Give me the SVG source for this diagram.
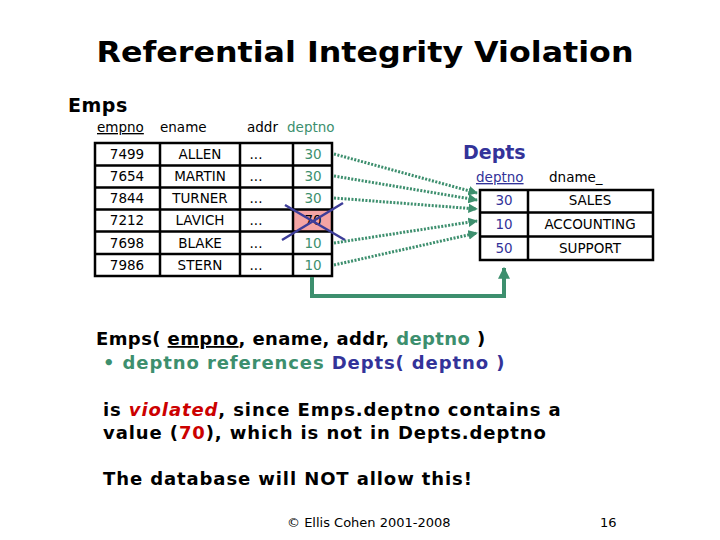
<svg xmlns="http://www.w3.org/2000/svg" width="720" height="540" viewBox="0 0 720 540">
<defs>
<style>
text{font-family:"DejaVu Sans","Verdana",sans-serif;fill:#000}
.b{font-weight:bold}
.g{fill:#3D8F6E}
.bl{fill:#333399}
.r{fill:#CC0000}
.cell{font-size:13.5px}
.tbl{fill:none;stroke:#000;stroke-width:2.5}
.dot{fill:none;stroke:#3D8F6E;stroke-width:3;stroke-dasharray:2 1.5;marker-end:url(#ah)}
</style>
<marker id="ah" viewBox="0 0 10 10" refX="9" refY="5" markerWidth="3.2" markerHeight="3.2" orient="auto" markerUnits="strokeWidth">
<path d="M0,0 L10,5 L0,10 z" fill="#3D8F6E"/>
</marker>
<marker id="ah2" viewBox="0 0 10 10" refX="9" refY="5" markerWidth="3" markerHeight="3" orient="auto" markerUnits="strokeWidth">
<path d="M0,0 L10,5 L0,10 z" fill="#3D8F6E"/>
</marker>
</defs>
<rect width="720" height="540" fill="#fff"/>
<text x="365" y="62" text-anchor="middle" class="b" font-size="29" textLength="537" lengthAdjust="spacingAndGlyphs">Referential Integrity Violation</text>

<g id="emps">
<text x="68" y="112" class="b" font-size="19" letter-spacing="0.5">Emps</text>
<text x="97" y="132" font-size="13.5" text-decoration="underline">empno</text>
<text x="160" y="132" font-size="13.5">ename</text>
<text x="247" y="132" font-size="13.5">addr</text>
<text x="287" y="132" font-size="13.5" class="g">deptno</text>
<rect x="293" y="209" width="39" height="22" fill="#F4A4A4"/>
<rect class="tbl" x="95" y="143" width="237" height="133"/>
<path class="tbl" d="M95,165.5H332M95,187.5H332M95,209.5H332M95,231.5H332M95,254H332M160,143V276M240,143V276M293,143V276"/>
<g class="cell" text-anchor="middle">
<text x="127" y="159">7499</text><text x="200" y="159">ALLEN</text><text x="256" y="159">...</text><text x="313" y="159" class="g">30</text>
<text x="127" y="181">7654</text><text x="200" y="181">MARTIN</text><text x="256" y="181">...</text><text x="313" y="181" class="g">30</text>
<text x="127" y="203">7844</text><text x="200" y="203">TURNER</text><text x="256" y="203">...</text><text x="313" y="203" class="g">30</text>
<text x="127" y="225">7212</text><text x="200" y="225">LAVICH</text><text x="256" y="225">...</text><text x="313" y="225">70</text>
<text x="127" y="248">7698</text><text x="200" y="248">BLAKE</text><text x="256" y="248">...</text><text x="313" y="248" class="g">10</text>
<text x="127" y="270">7986</text><text x="200" y="270">STERN</text><text x="256" y="270">...</text><text x="313" y="270" class="g">10</text>
</g>
<path d="M285,205L345,240M282,240L343,203" stroke="#3D3D99" stroke-width="2.5" fill="none"/>
</g>

<g id="depts">
<text x="463" y="159" class="b bl" font-size="19">Depts</text>
<text x="476" y="182" font-size="13.5" class="bl" text-decoration="underline">deptno</text>
<text x="549" y="182" font-size="13.5">dname_</text>
<rect class="tbl" x="480" y="190" width="173" height="70"/>
<path class="tbl" d="M480,212.5H653M480,236.5H653M528,190V260"/>
<g class="cell" text-anchor="middle">
<text x="504" y="205" class="bl">30</text><text x="590" y="205">SALES</text>
<text x="504" y="229" class="bl">10</text><text x="590" y="229">ACCOUNTING</text>
<text x="504" y="253" class="bl">50</text><text x="590" y="253">SUPPORT</text>
</g>
</g>

<g id="connectors">
<path class="dot" d="M334,154L477,193"/>
<path class="dot" d="M334,176L477,200"/>
<path class="dot" d="M334,198L477,209"/>
<path class="dot" d="M334,243L477,221"/>
<path class="dot" d="M334,265L477,233"/>
<path d="M312,277V296H504V268" fill="none" stroke="#3D8F6E" stroke-width="4" marker-end="url(#ah2)"/>
</g>

<g id="notes" class="b" font-size="18" letter-spacing="0.9">
<text x="96" y="345" letter-spacing="0.4">Emps( <tspan text-decoration="underline">empno</tspan>, ename, addr, <tspan class="g">deptno</tspan> )</text>
<text x="103" y="369"><tspan class="g">• deptno references </tspan><tspan class="bl">Depts( deptno )</tspan></text>
<text x="103" y="416">is <tspan class="r" font-style="italic">violated</tspan>, since Emps.deptno contains a</text>
<text x="103" y="439">value (<tspan class="r">70</tspan>), which is not in Depts.deptno</text>
<text x="103" y="485">The database will NOT allow this!</text>
</g>
<g id="footer" font-size="13">
<text x="287" y="527">© Ellis Cohen 2001-2008</text>
<text x="600" y="527">16</text>
</g>
</svg>
